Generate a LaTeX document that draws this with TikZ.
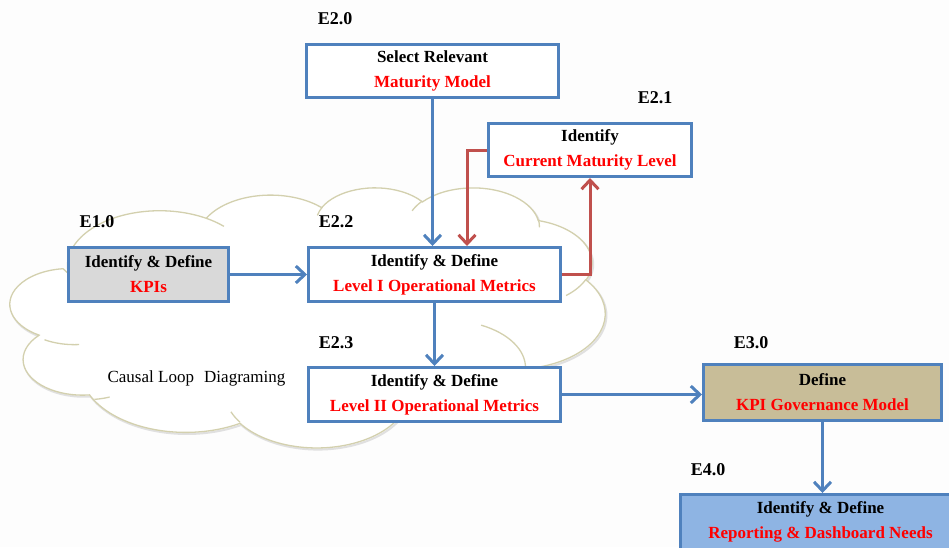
\documentclass[tikz,border=0pt]{standalone}
\usepackage{fontspec}
\setmainfont{Liberation Serif}
\usetikzlibrary{arrows.meta}

\definecolor{boxblue}{HTML}{4F81BD}
\definecolor{linkred}{HTML}{C0504D}
\definecolor{textred}{HTML}{FF0000}
\definecolor{cloudline}{HTML}{D3D0AE}
\definecolor{kpigray}{HTML}{D9D9D9}
\definecolor{govtan}{HTML}{C8BD98}
\definecolor{dashblue}{HTML}{8EB4E3}
\definecolor{paper}{HTML}{FDFDFD}

\tikzset{
  % elliptic arc given by radii, start angle and sweep (visual angles, y pointing down)
  oarc/.style n args={4}{
    x radius={#1}, y radius={#2},
    start angle={-atan2((#1)*sin(#3),(#2)*cos(#3))},
    delta angle={-mod(atan2((#1)*sin((#3)+(#4)),(#2)*cos((#3)+(#4)))-atan2((#1)*sin(#3),(#2)*cos(#3))+720,360)}
  },
  cloudoutline/.pic={
    \path[pic actions] (39.00,-143.70)
      arc[oarc={67.53}{91.90}{-190.4875}{123.7805}]
      arc[oarc={53.33}{72.67}{-144.1024}{89.9452}]
      arc[oarc={43.65}{59.45}{-145.8079}{99.7230}]
      arc[oarc={48.57}{65.95}{-130.9861}{117.2417}]
      arc[oarc={53.33}{72.73}{-78.7089}{109.0269}]
      arc[oarc={67.75}{92.20}{-46.2673}{130.2690}]
      arc[oarc={57.85}{78.67}{0.6250}{114.0333}]
      arc[oarc={67.52}{92.15}{22.4516}{115.1726}]
      arc[oarc={77.20}{105.43}{66.2426}{82.2776}]
      arc[oarc={43.60}{59.18}{-274.9421}{146.7356}]
      arc[oarc={43.45}{59.45}{-246.8285}{152.5189}]
      -- cycle;
  },
  stepbox/.style={draw=boxblue, line width=3pt, fill=white, align=center,
    inner sep=0pt, font=\fontsize{17}{25}\selectfont\bfseries},
  steplabel/.style={inner sep=0pt, font=\fontsize{18}{20}\selectfont\bfseries},
  flow/.style={draw=boxblue, line width=3pt, -{Straight Barb[length=9pt,width=17pt]}},
  feedback/.style={draw=linkred, line width=3pt, -{Straight Barb[length=9pt,width=17pt]}},
}

\begin{document}
\begin{tikzpicture}[x=1pt,y=-1pt]
  \useasboundingbox (0,0) rectangle (949,547);
  \fill[paper] (0,0) rectangle (949,547);
  \clip (0,0) rectangle (949,547);

  % causal loop cloud
  \begin{scope}[shift={(15,187)}, x=1.365741pt, y=0.601852pt]
    \pic[draw=black!12, line width=2pt, xshift=1.2pt, yshift=-1.6pt] {cloudoutline};
    \pic[draw=cloudline, fill=white, line width=1.3pt] {cloudoutline};
    \draw[cloudline, line width=1.3pt]
      (46.93,-261.77)  arc[oarc={43.45}{59.45}{86.7420}{26.4295}]
      (69.28,-348.99)  arc[oarc={43.60}{59.18}{73.6105}{11.4475}]
      (164.78,-390.90) arc[oarc={67.52}{92.15}{137.6242}{14.0811}]
      (288.27,-347.51) arc[oarc={67.52}{92.15}{6.4533}{15.9984}]
      (341.29,-229.54) arc[oarc={57.85}{78.67}{-70.2924}{70.9174}]
      (417.98,-153.54) arc[oarc={53.33}{72.73}{30.3180}{27.7515}]
      (383.24,-54.26)  arc[oarc={48.57}{65.95}{-13.7443}{14.8589}]
      (290.78,-39.52)  arc[oarc={48.57}{65.95}{-149.1815}{18.1954}]
      (221.41,-47.20)  arc[oarc={43.65}{59.45}{-163.4943}{17.6864}]
      (140.00,-51.92)  arc[oarc={67.53}{91.90}{-66.7070}{12.3194}]
      (41.27,-157.89)  arc[oarc={67.53}{91.90}{157.6544}{11.8582}];
  \end{scope}

  \node[font=\fontsize{17}{20}\selectfont] (cld) at (196.5,378) {Causal Loop\hspace{0.6em}Diagraming};

  % process steps
  \node[stepbox, minimum width=252, minimum height=53] (e20) at (432.5,71)
    {Select Relevant\\\textcolor{textred}{Maturity Model}};
  \node[stepbox, minimum width=203, minimum height=53] (e21) at (590,150)
    {Identify\\\textcolor{textred}{Current Maturity Level}};
  \node[stepbox, minimum width=252, minimum height=54] (e22) at (434.5,274.5)
    {Identify \& Define\\\textcolor{textred}{Level I Operational Metrics}};
  \node[stepbox, minimum width=252, minimum height=54] (e23) at (434.5,394.5)
    {Identify \& Define\\\textcolor{textred}{Level II Operational Metrics}};
  \node[stepbox, fill=kpigray, minimum width=160, minimum height=54] (e10) at (148.5,274.5)
    {Identify \& Define\\\textcolor{textred}{KPIs}};
  \node[stepbox, fill=govtan, minimum width=238, minimum height=56] (e30) at (822.5,392.5)
    {Define\\\textcolor{textred}{KPI Governance Model}};
  \node[stepbox, fill=dashblue, minimum width=280, minimum height=55] (e40) at (820.5,522)
    {Identify \& Define\\\textcolor{textred}{Reporting \& Dashboard Needs}};

  % step numbers
  \node[steplabel] (l20) at (335,19)  {E2.0};
  \node[steplabel] (l21) at (655,98)  {E2.1};
  \node[steplabel] (l22) at (336,222) {E2.2};
  \node[steplabel] (l23) at (336,343) {E2.3};
  \node[steplabel] (l10) at (97,222)  {E1.0};
  \node[steplabel] (l30) at (751,343) {E3.0};
  \node[steplabel] (l40) at (708,470) {E4.0};

  % flow connectors
  \draw[flow] (e20.south) -- (e20.south |- e22.north);
  \draw[flow] (e10.east) -- (e22.west);
  \draw[flow] (e22.south) -- (e23.north);
  \draw[flow] (e23.east) -- (e23.east -| e30.west);
  \draw[flow] (e30.south) -- (e30.south |- e40.north);

  % maturity feedback loop
  \draw[feedback] (e21.west) -| ([xshift=32.5pt]e22.north);
  \draw[feedback] (e22.east) -| (e21.south);
\end{tikzpicture}
\end{document}
